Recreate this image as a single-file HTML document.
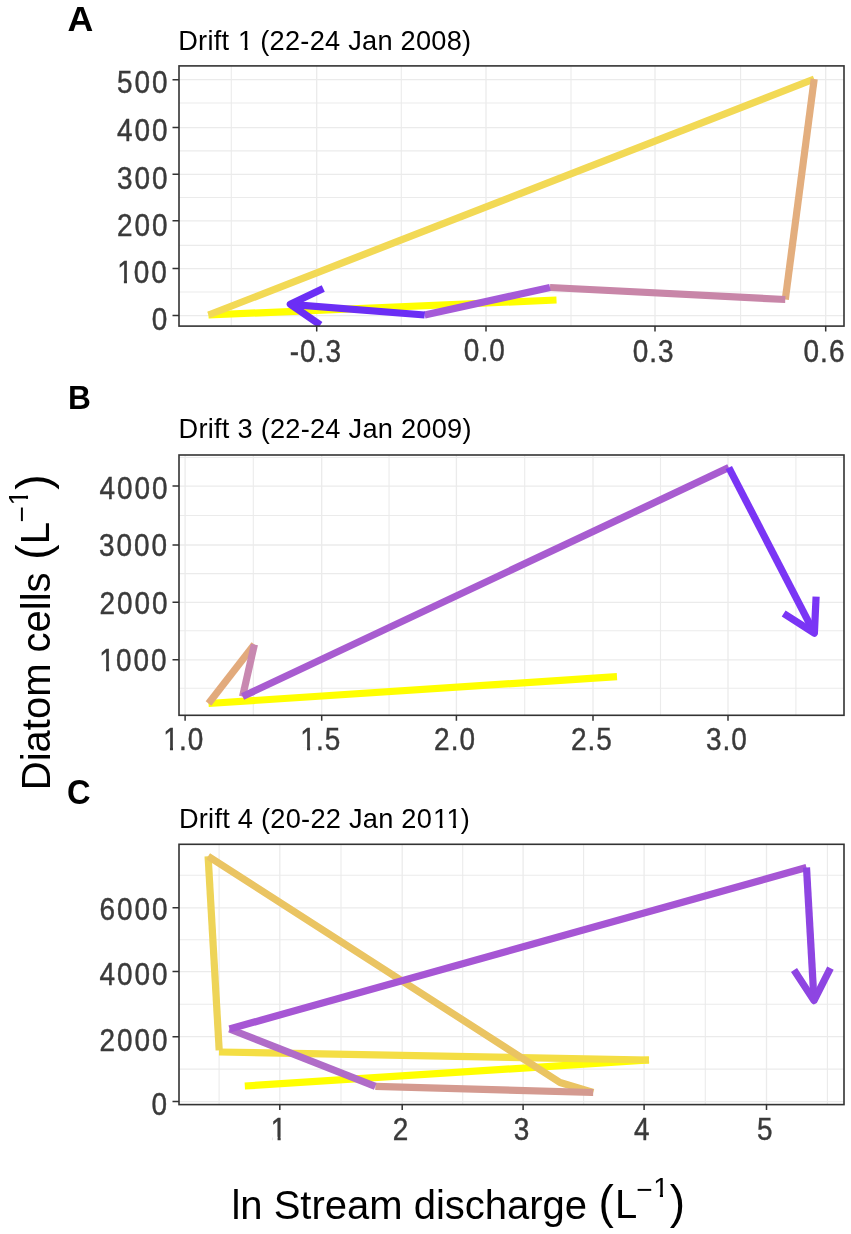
<!DOCTYPE html><html><head><meta charset="utf-8"><style>html,body{margin:0;padding:0;background:#fff;overflow:hidden;}svg{display:block;}text{font-family:"Liberation Sans", sans-serif;white-space:pre;}</style></head><body>
<svg width="851" height="1234" viewBox="0 0 851 1234">
<rect x="0" y="0" width="851" height="1234" fill="#ffffff"/>
<clipPath id="clipA"><rect x="179" y="65.9" width="665" height="260.2"/></clipPath>
<path d="M231.3 65.9V326.1M401.3 65.9V326.1M571 65.9V326.1M740.6 65.9V326.1M179 292H844M179 245.4H844M179 197.5H844M179 150.9H844M179 103H844" stroke="#ebebeb" stroke-width="1.1" fill="none"/>
<path d="M316.7 65.9V326.1M486 65.9V326.1M655 65.9V326.1M825.7 65.9V326.1M179 315.6H844M179 268.6H844M179 220.8H844M179 174.3H844M179 127.6H844M179 79.7H844" stroke="#ebebeb" stroke-width="1.3" fill="none"/>
<g clip-path="url(#clipA)" fill="none" stroke-width="7.2" stroke-linecap="butt" stroke-linejoin="round">
<path d="M556.5 300L208.5 315" stroke="#ffff00"/>
<path d="M208.5 315L814.2 79" stroke="#f2d955"/>
<path d="M814.2 79L785.3 299.5" stroke="#e3ae7e"/>
<path d="M785.3 299.5L550 287.5" stroke="#c886a8"/>
<path d="M550 287.5L424.7 315" stroke="#a55ad8"/>
<path d="M424.7 315L290.3 304.3" stroke="#6b2ef5"/>
<path d="M323.26 288.62L290.3 304.3L320.36 325" stroke="#6b2ef5"/>
</g>
<rect x="179" y="65.9" width="665" height="260.2" fill="none" stroke="#333333" stroke-width="1.6"/>
<path d="M316.7 326.1V331.6M486 326.1V331.6M655 326.1V331.6M825.7 326.1V331.6M179 315.6H172.5M179 268.6H172.5M179 220.8H172.5M179 174.3H172.5M179 127.6H172.5M179 79.7H172.5" stroke="#333333" stroke-width="1.5" fill="none"/>
<clipPath id="clipB"><rect x="179" y="455" width="665" height="260.3"/></clipPath>
<path d="M253.3 455V715.3M389.05 455V715.3M524.7 455V715.3M660.5 455V715.3M795.9 455V715.3M179 688.2H844M179 630.7H844M179 573.65H844M179 515.55H844M179 457.5H844" stroke="#ebebeb" stroke-width="1.1" fill="none"/>
<path d="M185.1 455V715.3M321.7 455V715.3M456.4 455V715.3M593 455V715.3M728 455V715.3M179 659.8H844M179 602.3H844M179 545H844M179 486.1H844" stroke="#ebebeb" stroke-width="1.3" fill="none"/>
<g clip-path="url(#clipB)" fill="none" stroke-width="7.2" stroke-linecap="butt" stroke-linejoin="round">
<path d="M617 676.6L208.5 703.5" stroke="#ffff00"/>
<path d="M208.5 703.5L254.4 644.5" stroke="#e2aa7c"/>
<path d="M254.4 644.5L242.6 696.5" stroke="#c888b0"/>
<path d="M242.6 696.5L728.8 467.6" stroke="#a85cd0"/>
<path d="M728.8 467.6L814.4 633.1" stroke="#7a35f5"/>
<path d="M783.67 613.41L814.4 633.1L816.09 596.64" stroke="#7a35f5"/>
</g>
<rect x="179" y="455" width="665" height="260.3" fill="none" stroke="#333333" stroke-width="1.6"/>
<path d="M185.1 715.3V720.8M321.7 715.3V720.8M456.4 715.3V720.8M593 715.3V720.8M728 715.3V720.8M179 659.8H172.5M179 602.3H172.5M179 545H172.5M179 486.1H172.5" stroke="#333333" stroke-width="1.5" fill="none"/>
<clipPath id="clipC"><rect x="179" y="844.3" width="665" height="260.3"/></clipPath>
<path d="M219.1 844.3V1104.6M341 844.3V1104.6M462.7 844.3V1104.6M583.6 844.3V1104.6M705.3 844.3V1104.6M827.4 844.3V1104.6M179 1069.1H844M179 1004.2H844M179 939.7H844M179 875.3H844" stroke="#ebebeb" stroke-width="1.1" fill="none"/>
<path d="M279.8 844.3V1104.6M402.2 844.3V1104.6M523.1 844.3V1104.6M644.1 844.3V1104.6M766.5 844.3V1104.6M179 1101.6H844M179 1036.7H844M179 971.6H844M179 907.8H844" stroke="#ebebeb" stroke-width="1.3" fill="none"/>
<g clip-path="url(#clipC)" fill="none" stroke-width="7.2" stroke-linecap="butt" stroke-linejoin="round">
<path d="M244.8 1086L649 1060" stroke="#ffff00"/>
<path d="M649 1060L219 1052" stroke="#f4de44"/>
<path d="M219.2 1050.4L208.1 856.2" stroke="#eed458"/>
<path d="M208.1 856.2L560 1082.5L593.2 1092.5" stroke="#eac462"/>
<path d="M593.2 1092.5L375.3 1086.4" stroke="#d49a90"/>
<path d="M375.3 1086.4L229.5 1029" stroke="#b06cc8"/>
<path d="M229.5 1029L806.5 867.5" stroke="#a656d4"/>
<path d="M806.5 867.5L814 1000.6" stroke="#8e45e2"/>
<path d="M794 970.07L814 1000.6L830.44 968.01" stroke="#8e45e2"/>
</g>
<rect x="179" y="844.3" width="665" height="260.3" fill="none" stroke="#333333" stroke-width="1.6"/>
<path d="M279.8 1104.6V1110.1M402.2 1104.6V1110.1M523.1 1104.6V1110.1M644.1 1104.6V1110.1M766.5 1104.6V1110.1M179 1101.6H172.5M179 1036.7H172.5M179 971.6H172.5M179 907.8H172.5" stroke="#333333" stroke-width="1.5" fill="none"/>
<mask id="m1" maskUnits="userSpaceOnUse" x="0" y="0" width="851" height="1234"><rect x="0" y="0" width="851" height="1234" fill="#fff"/>
<polygon points="118.58,279.3 123.89,279.3 123.89,286.37 118.58,286.37" fill="#000"/>
<polygon points="126.97,279.3 132.27,279.3 132.27,286.37 126.97,286.37" fill="#000"/>
<polygon points="100.74,667.37 106.05,667.37 106.05,674.44 100.74,674.44" fill="#000"/>
<polygon points="109.13,667.37 114.43,667.37 114.43,674.44 109.13,674.44" fill="#000"/>
<polygon points="164.63,746.8 169.94,746.8 169.94,753.87 164.63,753.87" fill="#000"/>
<polygon points="173.02,746.8 178.32,746.8 178.32,753.87 173.02,753.87" fill="#000"/>
<polygon points="301.69,747.05 307,747.05 307,754.12 301.69,754.12" fill="#000"/>
<polygon points="310.08,747.05 315.38,747.05 315.38,754.12 310.08,754.12" fill="#000"/>
<polygon points="272.27,1136.85 277.58,1136.85 277.58,1143.92 272.27,1143.92" fill="#000"/>
<polygon points="280.66,1136.85 285.96,1136.85 285.96,1143.92 280.66,1143.92" fill="#000"/>
<polygon points="239.42,46.67 244.53,46.67 244.53,52.79 239.42,52.79" fill="#000"/>
<polygon points="247.63,46.67 252.75,46.67 252.75,52.79 247.63,52.79" fill="#000"/>
<polygon points="434.4,824.85 439.52,824.85 439.52,830.97 434.4,830.97" fill="#000"/>
<polygon points="442.61,824.85 447.73,824.85 447.73,830.97 442.61,830.97" fill="#000"/>
<polygon points="447.76,824.85 452.88,824.85 452.88,830.97 447.76,830.97" fill="#000"/>
<polygon points="455.97,824.85 461.09,824.85 461.09,830.97 455.97,830.97" fill="#000"/>
<polygon points="654.58,1193.61 659.86,1193.61 659.86,1199.91 654.58,1199.91" fill="#000"/>
<polygon points="663.02,1193.61 668.3,1193.61 668.3,1199.91 663.02,1199.91" fill="#000"/>
<polygon points="24.86,504.15 24.86,498.87 31.16,498.87 31.16,504.15" fill="#000"/>
<polygon points="24.86,495.71 24.86,490.43 31.16,490.43 31.16,495.71" fill="#000"/>
</mask><g mask="url(#m1)">
<text transform="translate(116.9 93.38) scale(0.8900 1.0000)" font-size="31.4" letter-spacing="2.2" fill="#3a3a3a" stroke="#3a3a3a" stroke-width="0.45">500</text>
<text transform="translate(117.04 140.87) scale(0.8900 1.0000)" font-size="31.4" letter-spacing="2.2" fill="#3a3a3a" stroke="#3a3a3a" stroke-width="0.45">400</text>
<text transform="translate(116.9 188.75) scale(0.8900 1.0000)" font-size="31.4" letter-spacing="2.2" fill="#3a3a3a" stroke="#3a3a3a" stroke-width="0.45">300</text>
<text transform="translate(116.93 235.6) scale(0.8900 1.0000)" font-size="31.4" letter-spacing="2.2" fill="#3a3a3a" stroke="#3a3a3a" stroke-width="0.45">200</text>
<text transform="translate(116.23 282.6) scale(0.8900 1.0000)" font-size="31.4" letter-spacing="2.2" dx="1.07 -1.07" fill="#3a3a3a" stroke="#3a3a3a" stroke-width="0.45">100</text>
<text transform="translate(151.72 329.98) scale(0.8900 1.0000)" font-size="31.4" letter-spacing="2.2" fill="#3a3a3a" stroke="#3a3a3a" stroke-width="0.45">0</text>
<text transform="translate(99.5 499.4) scale(0.8900 1.0000)" font-size="31.4" letter-spacing="2.2" fill="#3a3a3a" stroke="#3a3a3a" stroke-width="0.45">4000</text>
<text transform="translate(99.12 556.4) scale(0.8900 1.0000)" font-size="31.4" letter-spacing="2.2" fill="#3a3a3a" stroke="#3a3a3a" stroke-width="0.45">3000</text>
<text transform="translate(99.39 613.67) scale(0.8900 1.0000)" font-size="31.4" letter-spacing="2.2" fill="#3a3a3a" stroke="#3a3a3a" stroke-width="0.45">2000</text>
<text transform="translate(98.39 670.67) scale(0.8900 1.0000)" font-size="31.4" letter-spacing="2.2" dx="1.07 -1.07" fill="#3a3a3a" stroke="#3a3a3a" stroke-width="0.45">1000</text>
<text transform="translate(99.59 919.8) scale(0.8900 1.0000)" font-size="31.4" letter-spacing="2.2" fill="#3a3a3a" stroke="#3a3a3a" stroke-width="0.45">6000</text>
<text transform="translate(99.45 985.23) scale(0.8900 1.0000)" font-size="31.4" letter-spacing="2.2" fill="#3a3a3a" stroke="#3a3a3a" stroke-width="0.45">4000</text>
<text transform="translate(99.59 1051.05) scale(0.8900 1.0000)" font-size="31.4" letter-spacing="2.2" fill="#3a3a3a" stroke="#3a3a3a" stroke-width="0.45">2000</text>
<text transform="translate(151.53 1115.47) scale(0.8900 1.0000)" font-size="31.4" letter-spacing="2.2" fill="#3a3a3a" stroke="#3a3a3a" stroke-width="0.45">0</text>
<text transform="translate(289.75 361.5) scale(0.8900 1.0000)" font-size="31.4" letter-spacing="1.18" fill="#3a3a3a" stroke="#3a3a3a" stroke-width="0.45">-0.3</text>
<text transform="translate(463.79 361.02) scale(0.8900 1.0000)" font-size="31.4" letter-spacing="1.18" fill="#3a3a3a" stroke="#3a3a3a" stroke-width="0.45">0.0</text>
<text transform="translate(632.71 361.5) scale(0.8900 1.0000)" font-size="31.4" letter-spacing="1.18" fill="#3a3a3a" stroke="#3a3a3a" stroke-width="0.45">0.3</text>
<text transform="translate(803.51 361.65) scale(0.8900 1.0000)" font-size="31.4" letter-spacing="1.18" fill="#3a3a3a" stroke="#3a3a3a" stroke-width="0.45">0.6</text>
<text transform="translate(162.28 750.1) scale(0.8900 1.0000)" font-size="31.4" letter-spacing="1.18" dx="1.07 -1.07" fill="#3a3a3a" stroke="#3a3a3a" stroke-width="0.45">1.0</text>
<text transform="translate(299.34 750.35) scale(0.8900 1.0000)" font-size="31.4" letter-spacing="1.18" dx="1.07 -1.07" fill="#3a3a3a" stroke="#3a3a3a" stroke-width="0.45">1.5</text>
<text transform="translate(434.12 750.35) scale(0.8900 1.0000)" font-size="31.4" letter-spacing="1.18" fill="#3a3a3a" stroke="#3a3a3a" stroke-width="0.45">2.0</text>
<text transform="translate(570.93 750.35) scale(0.8900 1.0000)" font-size="31.4" letter-spacing="1.18" fill="#3a3a3a" stroke="#3a3a3a" stroke-width="0.45">2.5</text>
<text transform="translate(705.91 750.47) scale(0.8900 1.0000)" font-size="31.4" letter-spacing="1.18" fill="#3a3a3a" stroke="#3a3a3a" stroke-width="0.45">3.0</text>
<text transform="translate(269.92 1140.15) scale(0.8900 1.0000)" font-size="31.4" letter-spacing="1.18" dx="1.07" fill="#3a3a3a" stroke="#3a3a3a" stroke-width="0.45">1</text>
<text transform="translate(392.71 1139.9) scale(0.8900 1.0000)" font-size="31.4" letter-spacing="1.18" fill="#3a3a3a" stroke="#3a3a3a" stroke-width="0.45">2</text>
<text transform="translate(513.72 1139.65) scale(0.8900 1.0000)" font-size="31.4" letter-spacing="1.18" fill="#3a3a3a" stroke="#3a3a3a" stroke-width="0.45">3</text>
<text transform="translate(634.12 1139.52) scale(0.8900 1.0000)" font-size="31.4" letter-spacing="1.18" fill="#3a3a3a" stroke="#3a3a3a" stroke-width="0.45">4</text>
<text transform="translate(757.02 1139.9) scale(0.8900 1.0000)" font-size="31.4" letter-spacing="1.18" fill="#3a3a3a" stroke="#3a3a3a" stroke-width="0.45">5</text>
<text transform="translate(178.2 49.53) scale(1.0000 1.0000)" font-size="27.2" letter-spacing="0.25" dx="0 0 0 0 0 0 0.92 -0.92" fill="#000">Drift 1 (22-24 Jan 2008)</text>
<text transform="translate(178.58 438.15) scale(1.0000 1.0000)" font-size="27.2" letter-spacing="0.25" fill="#000">Drift 3 (22-24 Jan 2009)</text>
<text transform="translate(178.9 827.71) scale(1.0000 1.0000)" font-size="27.2" letter-spacing="0.25" dx="0 0 0 0 0 0 0 0 0 0 0 0 0 0 0 0 0 0 0 0 0 0.92 0 -0.92" fill="#000">Drift 4 (20-22 Jan 2011)</text>
<text transform="translate(67.57 31.24) scale(1.0363 1.0126)" font-size="34.5" font-weight="bold" fill="#000">A</text>
<text transform="translate(67.9 409.23) scale(0.9182 0.9894)" font-size="34.5" font-weight="bold" fill="#000">B</text>
<text transform="translate(67.12 804.35) scale(0.9453 0.9918)" font-size="34.5" font-weight="bold" fill="#000">C</text>
<text transform="translate(231.38 1219.12) scale(1.0000 1.0000)" font-size="40" fill="#000">ln Stream discharge</text>
<text transform="translate(598.6 1218.2) scale(1.0000 1.0000)" font-size="46" fill="#000">(</text>
<text transform="translate(615.1 1218.05) scale(1.0000 1.0000)" font-size="40" fill="#000">L</text>
<text transform="translate(636.17 1198.78) scale(1.0000 1.0000)" font-size="28" fill="#000">−</text>
<text transform="translate(652.23 1196.55) scale(1.0000 1.0000)" font-size="28" dx="0.95" fill="#000">1</text>
<text transform="translate(669.79 1218.2) scale(1.0000 1.0000)" font-size="46" fill="#000">)</text>
<text transform="translate(49.57 790.22) rotate(-90) scale(1.0000 1.0000)" font-size="40" fill="#000">Diatom cells</text>
<text transform="translate(48.75 559.83) rotate(-90) scale(1.0000 1.0000)" font-size="46" fill="#000">(</text>
<text transform="translate(49.08 544.25) rotate(-90) scale(1.0000 1.0000)" font-size="40" fill="#000">L</text>
<text transform="translate(30.6 522.58) rotate(-90) scale(1.0000 1.0000)" font-size="28" fill="#000">−</text>
<text transform="translate(27.8 506.5) rotate(-90) scale(1.0000 1.0000)" font-size="28" dx="0.95" fill="#000">1</text>
<text transform="translate(48.75 489.76) rotate(-90) scale(1.0000 1.0000)" font-size="46" fill="#000">)</text>
</g>
</svg></body></html>
